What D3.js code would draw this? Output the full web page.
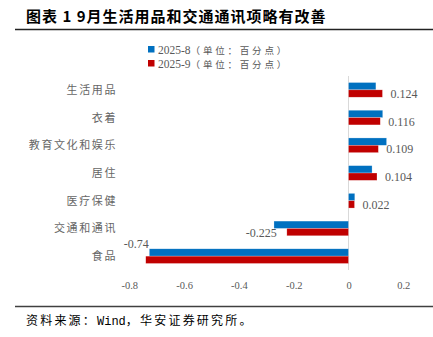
<!DOCTYPE html>
<html><head><meta charset="utf-8">
<script src="https://cdn.jsdelivr.net/npm/d3@7"></script>
<style>
html,body{margin:0;padding:0;background:#fff;}
svg{display:block;}
</style></head>
<body>
<script>
const categories = ["生活用品","衣着","教育文化和娱乐","居住","医疗保健","交通和通讯","食品"];
const seriesNames = ["2025-8（单位：百分点）","2025-9（单位：百分点）"];
const aug = [0.100, 0.125, 0.139, 0.086, 0.023, -0.272, -0.727];
const sep = [0.124, 0.116, 0.109, 0.104, 0.022, -0.225, -0.74];
const tickValues = [-0.8,-0.6,-0.4,-0.2,0,0.2];
const colors = ["#0070C0","#C00000"];
const titleText = "图表 1 9月生活用品和交通通讯项略有改善";

const W=433,H=337;
const fmt = d => String(d);
const svg=d3.select("body").append("svg").attr("width",W).attr("height",H);
svg.append("rect").attr("width",W).attr("height",H).attr("fill","#fff");

// title
svg.append("text").attr("x",26).attr("y",22)
  .attr("font-family","Noto Sans CJK SC").attr("font-weight","bold")
  .attr("font-size",15).attr("letter-spacing","1px").attr("fill","#000")
  .text(titleText);
svg.append("line").attr("x1",15).attr("x2",W).attr("y1",29.5).attr("y2",29.5)
  .attr("stroke","#222").attr("stroke-width",1.5);

// legend
const leg=svg.append("g");
seriesNames.forEach((n,i)=>{
  const cy=49.5+i*14;
  leg.append("rect").attr("x",148).attr("y",cy-3.5).attr("width",6.5).attr("height",6.5).attr("fill",colors[i]);
  const t=leg.append("text").attr("x",158).attr("y",cy+4).attr("fill","#595959");
  const m=n.indexOf("（");
  t.append("tspan").attr("font-family","Liberation Serif").attr("font-size",11.5).text(n.slice(0,m));
  t.append("tspan").attr("font-family","Noto Sans CJK SC").attr("font-size",9.5).attr("letter-spacing","2.8px").text(n.slice(m));
});

// scales
const x=d3.scaleLinear().domain([-0.8,0.2]).range([129.3,403.3]);
const y=d3.scaleBand().domain(categories).range([76,270]).paddingInner(0.47).paddingOuter(0.235);
const sub=d3.scaleBand().domain([0,1]).range([0,y.bandwidth()]);

// zero line
svg.append("line").attr("x1",x(0)).attr("x2",x(0)).attr("y1",76).attr("y2",270)
  .attr("stroke","#d9d9d9").attr("stroke-width",1);

// bars
[aug,sep].forEach((vals,s)=>{
  svg.append("g").selectAll("rect").data(vals).join("rect")
    .attr("x",d=>x(Math.min(0,d)))
    .attr("width",d=>Math.abs(x(d)-x(0)))
    .attr("y",(d,i)=>y(categories[i])+sub(s))
    .attr("height",sub.bandwidth())
    .attr("fill",colors[s])
    .attr("stroke","#fff").attr("stroke-opacity",0.5).attr("stroke-width",0.5);
});

// data labels (Sep series)
svg.append("g").selectAll("text").data(sep).join("text")
  .attr("font-family","Liberation Serif").attr("font-size",12).attr("fill","#595959")
  .attr("text-anchor",d=>d<0?"end":"start")
  .attr("x",d=>{
    if(x(d)<170) return x(d)+3;
    return d<0? x(d)-10 : x(d)+8;
  })
  .attr("y",(d,i)=>{
    if(x(d)<170) return y(categories[i])-0.5;
    return y(categories[i])+sub(1)+sub.bandwidth()/2+4.5;
  })
  .text(fmt);

// category labels
svg.append("g").selectAll("text").data(categories).join("text")
  .attr("x",117).attr("y",d=>y(d)+y.bandwidth()/2+4)
  .attr("text-anchor","end").attr("font-family","Noto Sans CJK SC")
  .attr("font-size",11).attr("letter-spacing","1.6px").attr("fill","#666")
  .text(d=>d);

// x axis tick labels
const ax=svg.append("g").attr("transform","translate(0,282)")
  .call(d3.axisBottom(x).tickValues(tickValues).tickSize(0).tickPadding(0).tickFormat(fmt));
ax.select(".domain").remove();
ax.selectAll("text").attr("font-family","Liberation Serif").attr("font-size",10.5).attr("fill","#595959")
  .attr("dy","0.71em").attr("y",0);

// bottom line and source
svg.append("line").attr("x1",15).attr("x2",W).attr("y1",306.5).attr("y2",306.5)
  .attr("stroke","#404040").attr("stroke-width",1.3);
const src=svg.append("text").attr("x",26).attr("y",324.5).attr("font-size",12).attr("fill","#000")
  .attr("font-family","Noto Sans CJK SC");
src.append("tspan").attr("letter-spacing","2.2px").text("资料来源：");
src.append("tspan").attr("font-family","Liberation Mono").text("Wind");
src.append("tspan").attr("letter-spacing","2.2px").text("，华安证券研究所。");
</script>
</body></html>
